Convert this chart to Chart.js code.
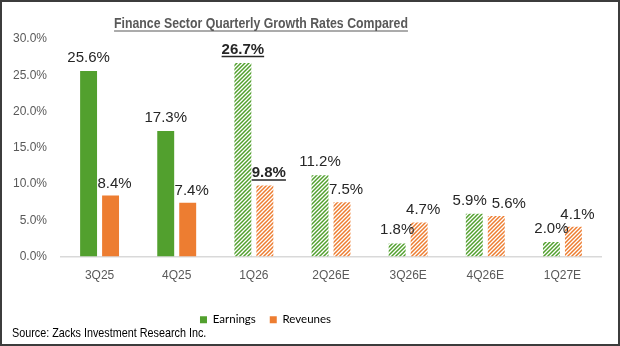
<!DOCTYPE html>
<html>
<head>
<meta charset="utf-8">
<title>Finance Sector Quarterly Growth Rates Compared</title>
<script src="https://cdn.jsdelivr.net/npm/chart.js@4.4.1/dist/chart.umd.min.js"></script>
<style>
    html, body { margin: 0; padding: 0; background: #fff; }
    #frame {
        position: relative;
        width: 620px;
        height: 346px;
        box-sizing: border-box;
        border: 2px solid #3c3c3c;
        background: #fff;
    }
    #chartBox { position: absolute; left: 0; top: 0; width: 616px; height: 342px; }
</style>
</head>
<body>
<div id="frame">
    <div id="chartBox"><canvas id="growthChart"></canvas></div>
</div>
<script>
const quarters = ["3Q25", "4Q25", "1Q26", "2Q26E", "3Q26E", "4Q26E", "1Q27E"];
const earningsGrowth = [25.6, 17.3, 26.7, 11.2, 1.8, 5.9, 2.0];
const revenueGrowth = [8.4, 7.4, 9.8, 7.5, 4.7, 5.6, 4.1];
const hatched = [false, false, true, true, true, true, true];
const highlighted = [false, false, true, false, false, false, false];
const yTicks = [0, 5, 10, 15, 20, 25, 30];

const chartTitle = "Finance Sector Quarterly Growth Rates Compared";
const sourceNote = "Source: Zacks Investment Research Inc.";

const GREEN = "#52A02E";
const ORANGE = "#ED7D31";
const SANS = "'Liberation Sans', Arial, sans-serif";

const canvas = document.getElementById("growthChart");
const ctx = canvas.getContext("2d");

function makeHatch(color) {
    const size = 4;
    const tile = document.createElement("canvas");
    tile.width = size;
    tile.height = size;
    const g = tile.getContext("2d");
    g.fillStyle = "#ffffff";
    g.fillRect(0, 0, size, size);
    g.strokeStyle = color;
    g.lineWidth = 1.5;
    g.beginPath();
    g.moveTo(0, size); g.lineTo(size, 0);
    g.moveTo(-1, 1); g.lineTo(1, -1);
    g.moveTo(size - 1, size + 1); g.lineTo(size + 1, size - 1);
    g.stroke();
    return ctx.createPattern(tile, "repeat");
}

const greenHatch = makeHatch(GREEN);
const orangeHatch = makeHatch(ORANGE);

// the original uses condensed fonts, so squeeze the text horizontally
function drawSqueezed(c, text, x, y, squeeze, align) {
    c.save();
    c.translate(x, y);
    c.scale(squeeze, 1);
    c.textAlign = align;
    c.fillText(text, 0, 0);
    const w = c.measureText(text).width * squeeze;
    c.restore();
    return w;
}

const frameText = {
    id: "frameText",
    afterLayout(chart) {
        const lg = chart.legend;
        if (!lg) return;
        const p = lg.options.labels.padding;
        const dy = 318 - (lg.top + p + 6);
        lg.top += dy;
        lg.bottom += dy;
        lg.left -= 36;
        lg.right -= 36;
    },
    afterDraw(chart) {
        const c = chart.ctx;
        c.save();
        c.textBaseline = "middle";

        c.fillStyle = "#595959";
        c.font = "bold 15px " + SANS;
        const cx = 259;
        const w = drawSqueezed(c, chartTitle, cx, 21.5, 0.82, "center");
        c.strokeStyle = "#595959";
        c.lineWidth = 1.2;
        c.beginPath();
        c.moveTo(cx - w / 2, 29);
        c.lineTo(cx + w / 2, 29);
        c.stroke();

        c.fillStyle = "#000000";
        c.font = "13px " + SANS;
        drawSqueezed(c, sourceNote, 10, 331, 0.83, "left");
        c.restore();
    }
};

const barValueLabels = {
    id: "barValueLabels",
    afterDatasetsDraw(chart) {
        const c = chart.ctx;
        const earnBars = chart.getDatasetMeta(0).data;
        const revBars = chart.getDatasetMeta(1).data;
        c.save();
        c.textAlign = "center";
        c.textBaseline = "alphabetic";
        c.fillStyle = "#262626";
        c.strokeStyle = "#262626";
        c.lineWidth = 1.5;

        quarters.forEach((q, i) => {
            const bold = highlighted[i];
            c.font = (bold ? "bold " : "") + "15px " + SANS;
            const t0 = earningsGrowth[i].toFixed(1) + "%";
            const t1 = revenueGrowth[i].toFixed(1) + "%";
            const w0 = c.measureText(t0).width;
            const w1 = c.measureText(t1).width;
            let x0 = earnBars[i].x;
            let x1 = revBars[i].x + 4;
            const y0 = earnBars[i].y - 9;
            const y1 = revBars[i].y - 8;

            // labels at about the same height get pushed apart
            if (Math.abs(y0 - y1) < 10) {
                const overlap = (x0 + w0 / 2 + 5) - (x1 - w1 / 2);
                if (overlap > 0) {
                    x0 -= overlap * 0.35;
                    x1 += overlap * 0.65;
                }
            }

            [[t0, x0, y0, w0], [t1, x1, y1, w1]].forEach(([t, x, y, w]) => {
                c.fillText(t, x, y);
                if (bold) {
                    c.beginPath();
                    c.moveTo(x - w / 2, y + 2.5);
                    c.lineTo(x + w / 2, y + 2.5);
                    c.stroke();
                }
            });
        });
        c.restore();
    }
};

new Chart(canvas, {
    type: "bar",
    data: {
        labels: quarters,
        datasets: [
            {
                label: "Earnings",
                data: earningsGrowth,
                backgroundColor: hatched.map(h => h ? greenHatch : GREEN),
                borderWidth: 0,
                categoryPercentage: 0.57,
                barPercentage: 0.77
            },
            {
                label: "Reveunes",
                data: revenueGrowth,
                backgroundColor: hatched.map(h => h ? orangeHatch : ORANGE),
                borderWidth: 0,
                categoryPercentage: 0.57,
                barPercentage: 0.77
            }
        ]
    },
    options: {
        responsive: true,
        maintainAspectRatio: false,
        animation: false,
        layout: { padding: { left: 0, right: 17, top: 37, bottom: 14 } },
        plugins: {
            title: { display: false },
            legend: {
                display: true,
                position: "bottom",
                labels: {
                    color: "#595959",
                    font: { family: "Lato, 'Noto Sans', sans-serif", size: 11.5 },
                    boxWidth: 7,
                    boxHeight: 7,
                    padding: 14,
                    generateLabels() {
                        return [
                            { text: "Earnings", fillStyle: GREEN, strokeStyle: GREEN, lineWidth: 0, datasetIndex: 0 },
                            { text: "Reveunes", fillStyle: ORANGE, strokeStyle: ORANGE, lineWidth: 0, datasetIndex: 1 }
                        ];
                    }
                }
            },
            tooltip: { enabled: false }
        },
        scales: {
            x: {
                grid: { display: false, drawTicks: false },
                border: { display: true, color: "#D9D9D9", width: 1.5 },
                ticks: {
                    color: "#595959",
                    font: { family: SANS, size: 12 },
                    padding: 12
                },
                afterFit(scale) { scale.height = 38; }
            },
            y: {
                min: 0,
                max: 30,
                grid: { display: false, drawTicks: false },
                border: { display: false },
                afterBuildTicks(scale) {
                    scale.ticks = yTicks.map(v => ({ value: v }));
                },
                ticks: {
                    color: "#595959",
                    font: { family: SANS, size: 12 },
                    padding: 14,
                    callback: v => Number(v).toFixed(1) + "%"
                },
                afterFit(scale) { scale.width = 59; }
            }
        }
    },
    plugins: [frameText, barValueLabels]
});
</script>
</body>
</html>
